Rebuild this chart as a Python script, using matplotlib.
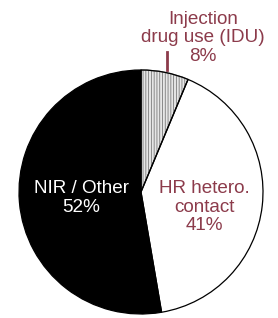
import matplotlib.pyplot as plt
from matplotlib.patches import Wedge

# slice shares as drawn (labels show rounded figures)
categories = ["Injection\ndrug use (IDU)", "HR hetero.\ncontact", "NIR / Other"]
values = [6.3, 41.0, 52.7]
pct_labels = ["8%", "41%", "52%"]

red = "#8c3b4b"

plt.rcParams["font.family"] = ["Liberation Sans", "DejaVu Sans"]
plt.rcParams["hatch.linewidth"] = 0.6

fig = plt.figure(figsize=(2.78, 3.18), dpi=100)
ax = fig.add_axes([0, 0, 1, 1])

wedges, _ = ax.pie(
    values,
    startangle=90,
    counterclock=False,
    center=(141, 126),
    radius=122,
    colors=["#e6e6e6", "white", "black"],
    wedgeprops=dict(edgecolor="black", linewidth=0.9),
    frame=True,
)
# hatched IDU slice, outline redrawn in black
wedges[0].set_hatch("||||||")
wedges[0].set_edgecolor("#7a7a7a")
w0 = wedges[0]
ax.add_patch(Wedge(w0.center, w0.r, w0.theta1, w0.theta2, fill=False,
                   edgecolor="black", linewidth=0.9))

ax.set_xlim(0, 278)
ax.set_ylim(0, 318)
ax.set_aspect("equal")
ax.axis("off")

ax.text(203, 318 - 38, categories[0] + "\n" + pct_labels[0], ha="center",
        va="center", fontsize=13.6, color=red, linespacing=1.12)
ax.plot([167, 167], [318 - 52, 318 - 70], color=red, linewidth=2)
ax.text(204, 318 - 207, categories[1] + "\n" + pct_labels[1], ha="center",
        va="center", fontsize=13.6, color=red, linespacing=1.1)
ax.text(81, 318 - 198, categories[2] + "\n" + pct_labels[2], ha="center",
        va="center", fontsize=13.6, color="white", linespacing=1.1)

fig.savefig("out.png", dpi=100)
